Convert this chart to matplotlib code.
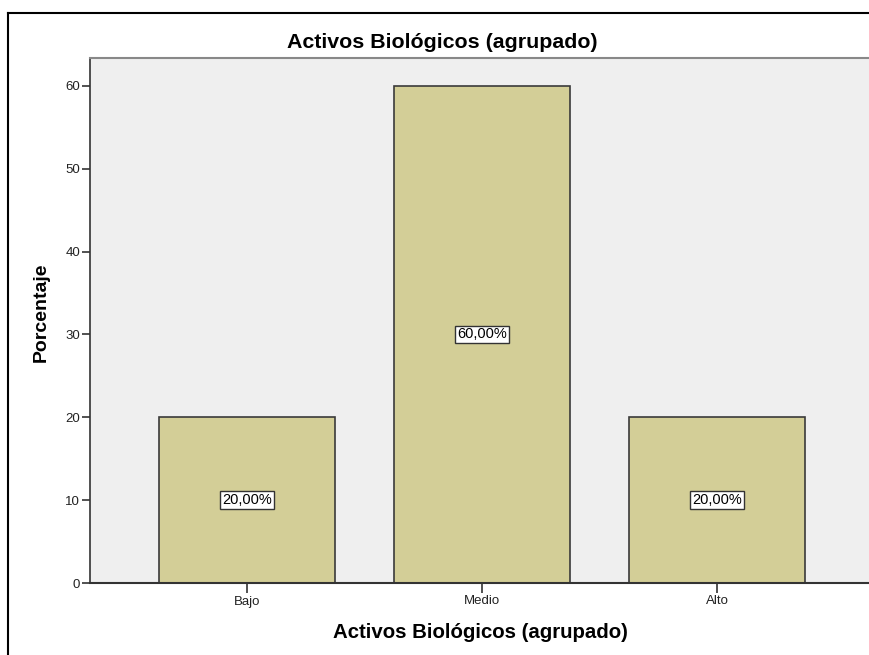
import matplotlib.pyplot as plt
from matplotlib.lines import Line2D

plt.rcParams['font.family'] = ['Liberation Sans', 'DejaVu Sans']

categories = ["Bajo", "Medio", "Alto"]
percentages = [20.0, 60.0, 20.0]
bar_labels = ["20,00%", "60,00%", "20,00%"]
yticks = [0, 10, 20, 30, 40, 50, 60]

W, H = 870, 655
fig = plt.figure(figsize=(8.7, 6.55), dpi=100)
ax = fig.add_axes([90 / W, 1 - 583 / H, 1 - 90 / W, (583 - 57.5) / H])
ax.set_facecolor("#efefef")

x = list(range(len(categories)))
ax.bar(x, percentages, width=0.75, color="#d3ce97", edgecolor="#3a3a3a", linewidth=1.2, zorder=2)
for xi, v, lab in zip(x, percentages, bar_labels):
    ax.text(xi, v / 2, lab, ha="center", va="center", fontsize=10.5, color="black", zorder=3,
            bbox=dict(boxstyle="square,pad=0.12", facecolor="white", edgecolor="#333333", linewidth=1))

ax.set_xlim(-0.668, 2.651)
ax.set_ylim(0, 63.44)
ax.set_xticks(x)
ax.set_xticklabels(categories, fontsize=9.5, color="#222222")
ax.set_yticks(yticks)
ax.set_yticklabels([str(t) for t in yticks], fontsize=9.5, color="#222222")
ax.tick_params(axis="y", length=6, width=1.2, color="#333333", pad=1)
ax.tick_params(axis="x", length=7, width=1.2, color="#333333", pad=2)

ax.spines["right"].set_visible(False)
ax.spines["top"].set_color("#888888")
ax.spines["top"].set_linewidth(1.5)
ax.spines["left"].set_color("#333333")
ax.spines["left"].set_linewidth(1.2)
ax.spines["bottom"].set_color("#333333")
ax.spines["bottom"].set_linewidth(1.5)

ax.set_xlabel("Activos Biológicos (agrupado)", fontsize=14.7, fontweight="bold", va="center")
ax.xaxis.set_label_coords(0.5, (583 - 632) / 525.5)
ax.set_ylabel("Porcentaje", fontsize=14, fontweight="bold", va="center")
ax.yaxis.set_label_coords((41 - 90) / 780, (583 - 312) / 525.5)
fig.text(442 / W, 1 - 42 / H, "Activos Biológicos (agrupado)", ha="center", va="center",
         fontsize=15.4, fontweight="bold")

# outer frame (cropped on the right and bottom)
fig.add_artist(Line2D([8 / W, 8 / W], [0, 1 - 13 / H], color="black", linewidth=1.5))
fig.add_artist(Line2D([8 / W, 1], [1 - 13 / H, 1 - 13 / H], color="black", linewidth=1.5))

fig.savefig("out.png", dpi=100)
